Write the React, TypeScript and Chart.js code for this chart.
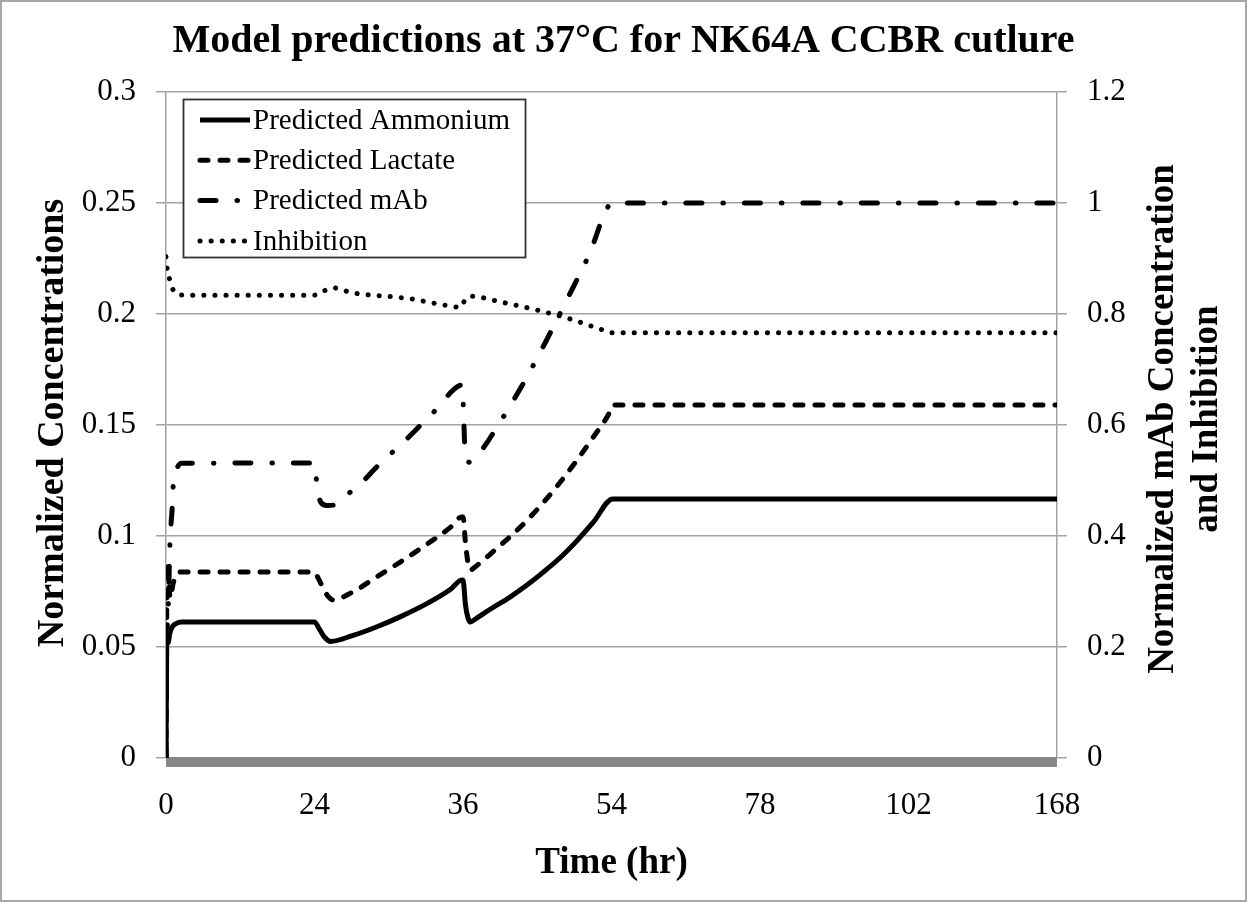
import { useEffect, useRef } from 'react';
import { Chart, registerables } from 'chart.js';

Chart.register(...registerables);

// Time axis: the ticks are evenly spaced, each interval covering a different span of hours.
const TIME_TICKS = [0, 24, 36, 54, 78, 102, 168];

const ammoniumHours = [0, 0.1, 0.2, 0.35, 0.6, 1.0, 1.6, 2.5, 24, 24.4, 24.8, 25.3, 27, 29, 31, 33, 35, 35.9, 36.0, 36.3, 36.6, 36.9, 37.5, 39.3, 41.7, 43.8, 45.7, 47.8, 49.8, 51.8, 54.2, 78, 102, 168];
const ammoniumValues = [0, 0.045, 0.058, 0.052, 0.056, 0.059, 0.0605, 0.0613, 0.0613, 0.058, 0.0545, 0.0525, 0.055, 0.059, 0.0638, 0.0693, 0.076, 0.0802, 0.0802, 0.069, 0.0632, 0.0613, 0.0626, 0.067, 0.0725, 0.078, 0.0836, 0.0903, 0.0978, 0.1062, 0.1167, 0.1167, 0.1167, 0.1167];

const lactateHours = [0, 0.1, 0.2, 0.4, 0.7, 1.1, 1.7, 2.5, 24, 24.3, 24.7, 25.1, 25.5, 27, 29, 31, 33, 35, 35.9, 36.0, 36.3, 36.6, 36.9, 37.5, 39.6, 43.8, 47.8, 51.8, 53.8, 54.2, 78, 102, 168];
const lactateValues = [0, 0.06, 0.088, 0.08, 0.072, 0.078, 0.0825, 0.0838, 0.0838, 0.081, 0.0765, 0.0728, 0.0712, 0.0745, 0.0815, 0.0885, 0.096, 0.104, 0.1086, 0.1086, 0.097, 0.088, 0.0847, 0.0862, 0.0928, 0.1072, 0.1243, 0.1446, 0.1559, 0.159, 0.159, 0.159, 0.159];

const mAbHours = [0, 0.1, 0.3, 0.65, 1.0, 1.2, 1.7, 2.5, 24, 24.2, 24.5, 25.0, 25.6, 26.5, 27.8, 29.0, 30.3, 31.6, 32.8, 34.0, 35.2, 35.9, 36.05, 36.2, 36.5, 36.8, 37.8, 40.7, 43.5, 46.2, 48.7, 51.2, 54.2, 78, 102, 168];
const mAbValues = [0, 0.2, 0.25, 0.39, 0.45, 0.497, 0.52, 0.531, 0.5315, 0.492, 0.461, 0.455, 0.456, 0.472, 0.496, 0.524, 0.551, 0.578, 0.605, 0.632, 0.663, 0.672, 0.63, 0.565, 0.538, 0.533, 0.546, 0.61, 0.68, 0.755, 0.829, 0.904, 1.0, 1.0, 1.0, 1.0];

const inhibitionHours = [0, 0.2, 0.6, 1.0, 1.8, 3, 24, 24.6, 25.5, 27.1, 28.7, 30.3, 31.9, 33.5, 35.1, 35.8, 36.24, 36.9, 40.5, 45, 49, 53, 54.2, 78, 102, 168];
const inhibitionValues = [0.903, 0.88, 0.862, 0.847, 0.836, 0.834, 0.834, 0.84, 0.847, 0.838, 0.834, 0.831, 0.827, 0.82, 0.814, 0.812, 0.825, 0.832, 0.822, 0.807, 0.791, 0.771, 0.766, 0.766, 0.766, 0.766];

const SERIES_LABELS = ['Predicted Ammonium', 'Predicted Lactate', 'Predicted mAb', 'Inhibition'];

const CHART_TITLE = 'Model predictions at 37\u00B0C for NK64A CCBR cutlure';
const X_TITLE = 'Time (hr)';
const LEFT_TITLE = 'Normalized Concentrations';
const RIGHT_TITLE = ['Normalized mAb Concentration', 'and Inhibition'];

const SERIF = '"Liberation Serif", "Times New Roman", serif';
const GRID = '#a3a3a3';
const TICK_FONT = 31;

// Line styles for each series (shared by the plot and the legend).
const STYLES = [
  { dash: [] as number[], width: 5 },
  { dash: [8, 12], width: 5 },
  { dash: [16, 21, 0.5, 21], width: 5 },
  { dash: [0.1, 11], width: 5 },
];

function hourToAxis(h: number): number {
  for (let i = 0; i < TIME_TICKS.length - 1; i++) {
    const a = TIME_TICKS[i];
    const b = TIME_TICKS[i + 1];
    if (h <= b) return i + (h - a) / (b - a);
  }
  return TIME_TICKS.length - 1;
}

const toPoints = (hours: number[], values: number[]) =>
  hours.map((h, i) => ({ x: hourToAxis(h), y: values[i] }));

const fmt = (v: number) => String(Number(v.toFixed(2)));

const decor = {
  id: 'decor',
  beforeDraw(chart: any) {
    const { ctx, width, height } = chart;
    ctx.save();
    ctx.fillStyle = '#ffffff';
    ctx.fillRect(0, 0, width, height);
    ctx.restore();
  },
  beforeDatasetsDraw(chart: any) {
    const { ctx, chartArea } = chart;
    ctx.save();
    ctx.fillStyle = '#878787';
    ctx.fillRect(chartArea.left, chartArea.bottom - 1, chartArea.right - chartArea.left, 10);
    ctx.restore();
  },
  afterDraw(chart: any) {
    const { ctx, chartArea, width, height } = chart;
    const midX = (chartArea.left + chartArea.right) / 2;
    const midY = (chartArea.top + chartArea.bottom) / 2;
    ctx.save();
    ctx.fillStyle = '#000';

    // chart title
    ctx.font = `bold 40px ${SERIF}`;
    ctx.textAlign = 'center';
    ctx.textBaseline = 'alphabetic';
    ctx.fillText(CHART_TITLE, width / 2, 52);

    // x axis title
    ctx.font = `bold 37px ${SERIF}`;
    ctx.fillText(X_TITLE, midX, 873);

    // left axis title
    ctx.font = `bold 38px ${SERIF}`;
    ctx.save();
    ctx.translate(63, midY - 2);
    ctx.rotate(-Math.PI / 2);
    ctx.fillText(LEFT_TITLE, 0, 0);
    ctx.restore();

    // right axis title (two lines)
    ctx.font = `bold 37px ${SERIF}`;
    const rightBase = [1173, 1217];
    RIGHT_TITLE.forEach((line, i) => {
      ctx.save();
      ctx.translate(rightBase[i], midY - 6);
      ctx.rotate(-Math.PI / 2);
      ctx.fillText(line, 0, 0);
      ctx.restore();
    });

    // legend
    const box = { x: 183.5, y: 99.5, w: 342, h: 158 };
    ctx.fillStyle = '#ffffff';
    ctx.fillRect(box.x, box.y, box.w, box.h);
    ctx.strokeStyle = '#333333';
    ctx.lineWidth = 1.8;
    ctx.strokeRect(box.x, box.y, box.w, box.h);
    ctx.font = `29px ${SERIF}`;
    ctx.textAlign = 'left';
    ctx.textBaseline = 'middle';
    SERIES_LABELS.forEach((label, i) => {
      const y = 120 + i * 40.3;
      const st = STYLES[i];
      ctx.save();
      ctx.strokeStyle = '#000';
      ctx.lineWidth = st.width;
      ctx.lineCap = st.dash.length ? 'round' : 'butt';
      ctx.setLineDash(st.dash);
      ctx.beginPath();
      ctx.moveTo(200, y);
      ctx.lineTo(250, y);
      ctx.stroke();
      ctx.restore();
      ctx.fillStyle = '#000';
      ctx.fillText(label, 253, y + 1);
    });

    // outer frame
    ctx.strokeStyle = '#a8a8a8';
    ctx.lineWidth = 2;
    ctx.setLineDash([]);
    ctx.strokeRect(1, 1, width - 2, height - 2);
    ctx.restore();
  },
};

export default function App() {
  const canvasRef = useRef<HTMLCanvasElement | null>(null);

  useEffect(() => {
    const canvas = canvasRef.current;
    if (!canvas) return;
    const seriesData = [
      { points: toPoints(ammoniumHours, ammoniumValues), axis: 'y' },
      { points: toPoints(lactateHours, lactateValues), axis: 'y' },
      { points: toPoints(mAbHours, mAbValues), axis: 'y1' },
      { points: toPoints(inhibitionHours, inhibitionValues), axis: 'y1' },
    ];
    const chart = new Chart(canvas, {
      type: 'line',
      data: {
        datasets: seriesData.map((s, i) => ({
          label: SERIES_LABELS[i],
          data: s.points,
          yAxisID: s.axis,
          borderColor: '#000000',
          borderWidth: STYLES[i].width,
          borderDash: STYLES[i].dash,
          borderCapStyle: STYLES[i].dash.length ? 'round' : 'butt',
          borderJoinStyle: 'round',
          pointRadius: 0,
          fill: false,
          cubicInterpolationMode: 'monotone',
        })),
      },
      options: {
        responsive: false,
        animation: false,
        devicePixelRatio: 1,
        layout: { padding: { top: 92, left: 0, right: 0, bottom: 0 } },
        plugins: {
          legend: { display: false },
          title: { display: false },
          tooltip: { enabled: false },
        },
        scales: {
          x: {
            type: 'linear',
            min: 0,
            max: TIME_TICKS.length - 1,
            grid: { display: false, drawTicks: false },
            border: { display: false },
            ticks: {
              stepSize: 1,
              autoSkip: false,
              maxRotation: 0,
              padding: 29,
              color: '#000',
              font: { family: SERIF, size: TICK_FONT },
              callback: (v: any) => String(TIME_TICKS[Math.round(Number(v))] ?? ''),
            },
            afterFit: (s: any) => { s.height = 144; },
          },
          y: {
            type: 'linear',
            position: 'left',
            min: 0,
            max: 0.3,
            grid: { color: GRID, lineWidth: 1.5, tickLength: 10, drawTicks: true },
            border: { display: true, color: GRID, width: 1.5 },
            ticks: {
              stepSize: 0.05,
              padding: 20,
              color: '#000',
              font: { family: SERIF, size: TICK_FONT },
              callback: (v: any) => fmt(Number(v)),
            },
            afterFit: (s: any) => { s.width = 166; },
          },
          y1: {
            type: 'linear',
            position: 'right',
            min: 0,
            max: 1.2,
            grid: { color: GRID, lineWidth: 1.5, tickLength: 10, drawTicks: true, drawOnChartArea: false },
            border: { display: true, color: GRID, width: 1.5 },
            ticks: {
              stepSize: 0.2,
              padding: 20,
              color: '#000',
              font: { family: SERIF, size: TICK_FONT },
              callback: (v: any) => fmt(Number(v)),
            },
            afterFit: (s: any) => { s.width = 190; },
          },
        },
      } as any,
      plugins: [decor],
    });
    return () => chart.destroy();
  }, []);

  return (
    <div style={{ position: 'absolute', left: 0, top: 0, width: 1247, height: 902 }}>
      <canvas ref={canvasRef} width={1247} height={902} style={{ display: 'block' }} />
    </div>
  );
}
